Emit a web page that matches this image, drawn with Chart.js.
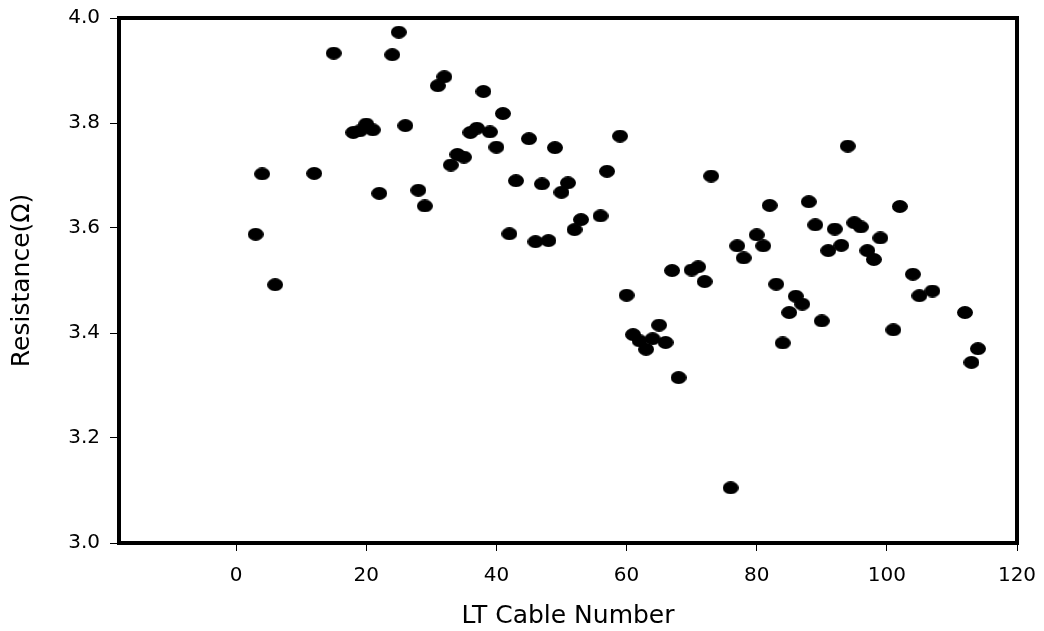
<!DOCTYPE html>
<html>
<head>
<meta charset="utf-8">
<script src="https://cdn.jsdelivr.net/npm/chart.js@4.4.1/dist/chart.umd.min.js"></script>
<style>
  body { margin: 0; background: #fff; }
  #chart { display: block; }
</style>
</head>
<body>
<canvas id="chart" width="1044" height="631"></canvas>
<script>
// cable numbers and measured resistance (ohm)
const cableNumbers = [3, 4, 6, 12, 15, 18, 19, 20, 21, 22, 24, 25, 26, 28, 29, 31, 32, 33, 34, 35,
    36, 37, 38, 39, 40, 41, 42, 43, 45, 46, 47, 48, 49, 50, 51, 52, 53, 56, 57, 59,
    60, 61, 62, 63, 64, 65, 66, 67, 68, 70, 71, 72, 73, 76, 77, 78, 80, 81, 82, 83,
    84, 85, 86, 87, 88, 89, 90, 91, 92, 93, 94, 95, 96, 97, 98, 99, 101, 102, 104, 105,
    107, 112, 113, 114];
const resistance = [3.588, 3.703, 3.492, 3.704, 3.933, 3.782, 3.785, 3.798, 3.787, 3.666,
    3.930, 3.973, 3.795, 3.672, 3.642, 3.871, 3.888, 3.720, 3.740, 3.735,
    3.782, 3.790, 3.860, 3.783, 3.754, 3.818, 3.589, 3.690, 3.770, 3.574,
    3.684, 3.576, 3.753, 3.668, 3.686, 3.597, 3.616, 3.623, 3.708, 3.775,
    3.472, 3.397, 3.385, 3.369, 3.389, 3.415, 3.382, 3.519, 3.315, 3.520,
    3.526, 3.498, 3.699, 3.105, 3.566, 3.543, 3.587, 3.566, 3.643, 3.493,
    3.381, 3.439, 3.470, 3.455, 3.650, 3.606, 3.423, 3.557, 3.598, 3.567,
    3.756, 3.610, 3.602, 3.557, 3.540, 3.581, 3.406, 3.641, 3.512, 3.471,
    3.480, 3.439, 3.344, 3.370];
const xTicks = [0, 20, 40, 60, 80, 100, 120];
const yTicks = [3.0, 3.2, 3.4, 3.6, 3.8, 4.0];

// slightly flattened dot used as the marker
const dot = document.createElement('canvas');
dot.width = 16;
dot.height = 13;
const dctx = dot.getContext('2d');
dctx.fillStyle = '#000';
dctx.beginPath();
dctx.ellipse(8, 6.5, 8, 6.5, 0, 0, Math.PI * 2);
dctx.fill();

// heavy box round the plot area
const frame = {
    id: 'frame',
    afterDraw(chart) {
        const { ctx, chartArea: a } = chart;
        ctx.save();
        ctx.strokeStyle = '#000';
        ctx.lineWidth = 4;
        ctx.lineJoin = 'miter';
        ctx.strokeRect(a.left, a.top, a.right - a.left, a.bottom - a.top);
        ctx.restore();
    }
};

// keep the plot box where the layout padding puts it
function noLabelPadding(s) {
    s.paddingLeft = 0;
    s.paddingRight = 0;
    s.paddingTop = 0;
    s.paddingBottom = 0;
}

const points = cableNumbers.map((n, i) => ({ x: n, y: resistance[i] }));

new Chart(document.getElementById('chart'), {
    type: 'scatter',
    data: {
        datasets: [{
            data: points,
            pointStyle: dot,
            backgroundColor: '#000',
            borderColor: '#000'
        }]
    },
    options: {
        responsive: false,
        animation: false,
        events: [],
        layout: { padding: { top: 18, right: 27, bottom: 0, left: 0 } },
        plugins: { legend: { display: false }, tooltip: { enabled: false } },
        scales: {
            x: {
                type: 'linear',
                min: -18,
                max: 120,
                afterBuildTicks: s => { s.ticks = xTicks.map(v => ({ value: v })); },
                afterFit: s => { s.height = 88; noLabelPadding(s); },
                border: { display: false },
                grid: { drawOnChartArea: false, drawTicks: true, tickLength: 8, color: '#000', lineWidth: 1 },
                ticks: {
                    color: '#000',
                    padding: 13,
                    maxRotation: 0,
                    font: { family: 'DejaVu Sans', size: 20 }
                },
                title: {
                    display: true,
                    text: 'LT Cable Number',
                    color: '#000',
                    padding: { top: 0, bottom: 0 },
                    font: { family: 'DejaVu Sans', size: 25 }
                }
            },
            y: {
                type: 'linear',
                min: 3.0,
                max: 4.0,
                afterBuildTicks: s => { s.ticks = yTicks.map(v => ({ value: v })); },
                afterFit: s => { s.width = 119; noLabelPadding(s); },
                border: { display: false },
                grid: { drawOnChartArea: false, drawTicks: true, tickLength: 9, color: '#000', lineWidth: 1 },
                ticks: {
                    color: '#000',
                    padding: 10,
                    callback: v => v.toFixed(1),
                    font: { family: 'DejaVu Sans', size: 20 }
                },
                title: {
                    display: true,
                    text: 'Resistance(Ω)',
                    color: '#000',
                    padding: { top: 7, bottom: 0 },
                    font: { family: 'DejaVu Sans', size: 25 }
                }
            }
        }
    },
    plugins: [frame]
});
</script>
</body>
</html>
